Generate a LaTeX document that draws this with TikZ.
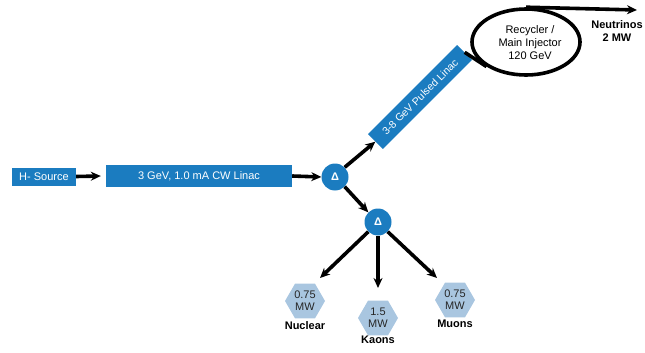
\documentclass[tikz,border=0pt]{standalone}
\usepackage{fontspec}
\setmainfont{Liberation Sans}
\usetikzlibrary{shapes.geometric,arrows.meta}
\definecolor{boxblue}{HTML}{1B7CC0}
\definecolor{hexblue}{HTML}{A9C6E0}
\tikzset{
  bluebox/.style={fill=boxblue,text=white,font=\fontsize{11}{12}\selectfont,inner sep=0pt,anchor=center},
  deltanode/.style={circle,fill=boxblue,text=white,minimum size=27pt,inner sep=0pt,font=\bfseries\fontsize{11}{12}\selectfont},
  hexnode/.style={regular polygon,regular polygon sides=6,fill=hexblue,minimum size=40pt,inner sep=0pt,align=center,font=\fontsize{11}{12}\selectfont,text=black!85},
  lbl/.style={font=\bfseries\fontsize{11}{13}\selectfont,align=center},
  beam/.style={line width=3.6pt,-{Stealth[length=10pt,width=9pt]}},
  plain/.style={line width=3.6pt}
}
\begin{document}
\begin{tikzpicture}[x=1pt,y=-1pt]
\useasboundingbox (0,0) rectangle (645,353);
\node[bluebox,minimum width=64pt,minimum height=18pt] (src) at (44,176.5) {H- Source};
\node[bluebox,minimum width=186pt,minimum height=22pt] (cw) at (199,176) {3 GeV, 1.0 mA CW Linac};
\node[deltanode] (d1) at (335,177) {Δ};
\node[bluebox,rotate=45,minimum width=126pt,minimum height=21pt,font=\fontsize{10.5}{11}\selectfont] (pl) at (420,97) {3-8 GeV Pulsed Linac};
\node[ellipse,draw,line width=3.6pt,minimum width=108pt,minimum height=66pt,inner sep=0pt] (ring) at (526,42) {};
\node[align=center,font=\fontsize{11}{13}\selectfont] (ringtxt) at (530,43) {Recycler /\\Main Injector\\120 GeV};
\coordinate (out) at (637,10);
\node[lbl] (nu) at (617,31) {Neutrinos\\2 MW};
\node[deltanode] (d2) at (378,222) {Δ};
\node[hexnode] (h1) at (305,301) {0.75\\MW};
\node[hexnode] (h2) at (378,318) {1.5\\MW};
\node[hexnode] (h3) at (455,300) {0.75\\MW};
\node[lbl] (l1) at (305,326) {Nuclear};
\node[lbl] (l2) at (378,340) {Kaons};
\node[lbl] (l3) at (455,324) {Muons};
\draw[beam] (src.east) -- ([xshift=-5pt]cw.west);
\draw[beam] (cw.east) -- (d1.west);
\draw[beam] (d1.north east) -- (pl.west);
\draw[plain] (pl.east) -- (ring.south west);
\draw[beam] (ring.north) -- (out);
\draw[beam] (d1.south east) -- (d2.north west);
\draw[beam] (d2.south west) -- (320,278);
\draw[beam] (d2.south) -- (378,288);
\draw[beam] (d2.south east) -- (437,278);
\end{tikzpicture}
\end{document}
